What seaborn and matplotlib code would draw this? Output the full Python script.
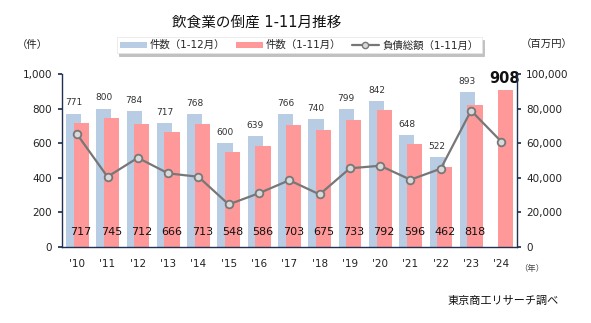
import numpy as np
import pandas as pd
import seaborn as sns
import matplotlib
matplotlib.use("Agg")
import matplotlib.pyplot as plt
from matplotlib.patches import Patch
from matplotlib.lines import Line2D

years = ["'10", "'11", "'12", "'13", "'14", "'15", "'16", "'17", "'18", "'19", "'20", "'21", "'22", "'23", "'24"]
full_year = [771, 800, 784, 717, 768, 600, 639, 766, 740, 799, 842, 648, 522, 893]
jan_nov = [717, 745, 712, 666, 713, 548, 586, 703, 675, 733, 792, 596, 462, 818, 908]
debt = [65000, 40500, 51500, 42500, 40500, 24500, 31000, 38500, 30300, 45400, 46900, 38800, 45200, 78800, 60800]

sns.set_theme(style="white")
plt.rcParams['font.family'] = ['DejaVu Sans', 'Noto Sans CJK JP']

C_BLUE = "#b8cce4"
C_PINK = "#ff9999"
C_LINE = "#777777"
C_AX = "#1f3050"

fig = plt.figure(figsize=(5.91, 3.23), dpi=100)
ax = fig.add_axes([0.105, 0.236, 0.769, 0.535])

n = len(years)
idx = np.arange(n)
df_blue = pd.DataFrame({"x": idx[:len(full_year)] - 0.12, "v": full_year})
df_pink = pd.DataFrame({"x": idx + 0.13, "v": jan_nov})
df_debt = pd.DataFrame({"x": idx, "v": debt})

sns.barplot(data=df_blue, x="x", y="v", native_scale=True, width=0.5, color=C_BLUE,
            saturation=1, ax=ax, linewidth=0, errorbar=None)
sns.barplot(data=df_pink, x="x", y="v", native_scale=True, width=0.5, color=C_PINK,
            saturation=1, ax=ax, linewidth=0, errorbar=None)

ax.set_xlim(-0.5, n - 0.5)
ax.set_ylim(0, 1000)
ax.set_yticks(np.arange(0, 1001, 200))
ax.set_yticklabels([f"{v:,}" for v in range(0, 1001, 200)], fontsize=7.5, color="#222222")
ax.set_xticks(idx)
ax.set_xticklabels(years, fontsize=7.5, color="#222222")
ax.set_xticks(np.arange(-0.5, n, 1), minor=True)
ax.tick_params(axis="x", which="major", length=0, pad=9)
ax.tick_params(axis="x", which="minor", length=3, direction="in", color=C_AX)
ax.tick_params(axis="y", length=3, direction="out", color=C_AX, pad=4)
ax.set_xlabel("")
ax.set_ylabel("")
for s in ["top", "right"]:
    ax.spines[s].set_visible(False)
for s in ["left", "bottom"]:
    ax.spines[s].set_color(C_AX)
    ax.spines[s].set_linewidth(1.0)

ax2 = ax.twinx()
sns.lineplot(data=df_debt, x="x", y="v", ax=ax2, color=C_LINE, linewidth=1.6,
             marker="o", markersize=5.5, markerfacecolor="#d9d9d9",
             markeredgecolor=C_LINE, markeredgewidth=1.3)
ax2.set_ylim(0, 100000)
ax2.set_xlim(-0.5, n - 0.5)
ax2.set_yticks(np.arange(0, 100001, 20000))
ax2.set_yticklabels([f"{v:,}" for v in range(0, 100001, 20000)], fontsize=7.5, color="#222222")
ax2.tick_params(axis="y", length=3, direction="out", color=C_AX, pad=4)
ax2.set_ylabel("")
ax2.set_xlabel("")
for s in ["top", "left", "bottom"]:
    ax2.spines[s].set_visible(False)
ax2.spines["right"].set_color(C_AX)
ax2.spines["right"].set_linewidth(1.0)

# value labels
for i, v in enumerate(full_year):
    ax.text(i - 0.12, v + 35, str(v), ha="center", va="bottom", fontsize=6.5, color="#333333")
for i, v in enumerate(jan_nov):
    if i == n - 1:
        ax.text(i + 0.1, v + 20, str(v), ha="center", va="bottom", fontsize=10.5,
                fontweight="bold", color="#111111", zorder=10)
    else:
        ax.text(i + 0.13, 85, str(v), ha="center", va="center", fontsize=8, color="#111111",
                zorder=10)

fig.text(0.435, 0.932, "飲食業の倒産 1-11月推移", ha="center", va="center", fontsize=10.5, color="#111111")
fig.text(0.055, 0.86, "（件）", ha="center", va="center", fontsize=7.5, color="#222222")
fig.text(0.925, 0.86, "（百万円）", ha="center", va="center", fontsize=7.5, color="#222222")
fig.text(0.9, 0.17, "（年）", ha="center", va="center", fontsize=6, color="#444444")
fig.text(0.945, 0.07, "東京商工リサーチ調べ", ha="right", va="center", fontsize=8, color="#111111")

handles = [Patch(facecolor=C_BLUE, edgecolor="none"),
           Patch(facecolor=C_PINK, edgecolor="none"),
           Line2D([0], [0], color=C_LINE, linewidth=1.6, marker="o", markersize=4.5,
                  markerfacecolor="#d9d9d9", markeredgecolor=C_LINE)]
labels = ["件数（1-12月）", "件数（1-11月）", "負債総額（1-11月）"]
leg = fig.legend(handles, labels, loc="center", bbox_to_anchor=(0.506, 0.86), ncol=3,
                 fontsize=7.5, frameon=True, fancybox=False,
                 shadow={"color": "#999999", "alpha": 0.6, "ox": 2, "oy": -2},
                 handlelength=2.6, handleheight=0.5, handletextpad=0.3, columnspacing=1.0,
                 borderpad=0.3, edgecolor="#e5e5e5")
leg.get_frame().set_linewidth(0.5)

fig.savefig("out.png", dpi=100)
